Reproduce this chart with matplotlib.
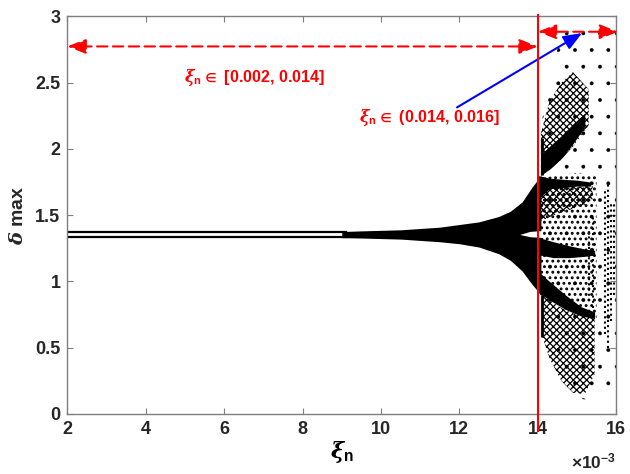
import numpy as np
import matplotlib
matplotlib.use("Agg")
import matplotlib.pyplot as plt

plt.rcParams['font.family'] = ['Liberation Sans', 'DejaVu Sans']
plt.rcParams['font.weight'] = 'bold'
plt.rcParams['axes.labelweight'] = 'bold'
plt.rcParams['mathtext.fontset'] = 'custom'
plt.rcParams['mathtext.rm'] = 'Liberation Sans:bold'
plt.rcParams['mathtext.bf'] = 'Liberation Sans:bold'
plt.rcParams['mathtext.it'] = 'DejaVu Serif:italic'
plt.rcParams['mathtext.fallback'] = 'stix'
plt.rcParams['hatch.linewidth'] = 1.0

# xi_n is in units of 1e-3, delta max on y
# two branches before they smear into one band
stem_x = [2.0, 9.1]
stem_hi = [1.372, 1.372]
stem_lo = [1.336, 1.336]

# widening band up to the red line
band_x = [9.0, 9.5, 10.5, 11.0, 11.5, 12.0, 12.5, 13.0, 13.3, 13.6, 13.85, 14.08]
band_hi = [1.377, 1.382, 1.390, 1.40, 1.41, 1.43, 1.45, 1.49, 1.53, 1.60, 1.71, 1.80]
band_lo = [1.331, 1.328, 1.320, 1.31, 1.30, 1.285, 1.26, 1.21, 1.16, 1.08, 0.98, 0.90]

# white notch where the band splits
notch_x = [13.55, 13.8, 14.12]
notch_hi = [1.356, 1.378, 1.385]
notch_lo = [1.354, 1.338, 1.332]

# solid branches after 0.014
hump_x = [14.0, 14.3, 14.7, 15.0, 15.35]
hump_hi = [1.80, 1.78, 1.77, 1.765, 1.75]
hump_lo = [1.62, 1.70, 1.71, 1.72, 1.72]

mid_x = [14.05, 14.4, 14.8, 15.2, 15.45]
mid_hi = [1.33, 1.30, 1.27, 1.245, 1.235]
mid_lo = [1.20, 1.18, 1.18, 1.19, 1.20]

low_x = [14.0, 14.3, 14.7, 15.1, 15.45]
low_hi = [1.08, 1.00, 0.90, 0.81, 0.77]
low_lo = [0.92, 0.86, 0.79, 0.74, 0.72]

core_x = [14.08, 14.3, 14.6, 14.9, 15.2]
core_hi = [1.96, 2.02, 2.10, 2.19, 2.27]
core_lo = [1.80, 1.85, 1.93, 2.04, 2.17]

# woven (dense) stipple
wing_x = [14.08, 14.3, 14.6, 14.9, 15.3]
wing_hi = [2.12, 2.36, 2.50, 2.58, 2.45]
wing_lo = [1.80, 1.84, 1.92, 2.02, 2.18]

under_x = [14.05, 14.4, 14.8, 15.2, 15.4]
under_hi = [1.72, 1.71, 1.71, 1.72, 1.72]
under_lo = [1.45, 1.50, 1.54, 1.58, 1.62]

fan_x = [14.1, 14.3, 14.6, 14.9, 15.2, 15.45]
fan_hi = [0.90, 0.86, 0.80, 0.76, 0.74, 0.72]
fan_lo = [0.60, 0.42, 0.25, 0.16, 0.15, 0.30]

# medium stipple
cloud_x = [14.05, 14.5, 15.0, 15.5]
cloud_hi = [1.78, 1.80, 1.82, 1.80]
cloud_lo = [0.90, 0.85, 0.78, 0.70]

# sparse chaotic points
sparse_x = [14.1, 14.35, 14.6, 15.0, 15.4, 15.7, 16.0]
sparse_hi = [2.20, 2.60, 2.85, 2.95, 2.95, 2.95, 2.90]
sparse_lo = [0.90, 0.60, 0.35, 0.12, 0.10, 0.20, 0.20]

# vertical point streaks
streak_x = [14.12, 14.12, 15.30, 15.40, 15.72, 15.80, 15.87, 15.94]
streak_lo = [1.80, 0.58, 0.85, 0.80, 0.60, 0.50, 0.70, 0.90]
streak_hi = [2.08, 0.90, 1.40, 1.50, 1.70, 1.75, 1.60, 1.60]

fig = plt.figure(figsize=(6.3, 4.74), dpi=100)
ax = fig.add_axes([0.107, 0.1266, 0.871, 0.8386])


def stipple(xs, lo, hi, pattern, hlw):
    with plt.rc_context({'hatch.linewidth': hlw}):
        pc = ax.fill_between(xs, lo, hi, facecolor='none', edgecolor='k',
                             hatch=pattern, linewidth=0)
    if hasattr(pc, 'set_hatch_linewidth'):
        pc.set_hatch_linewidth(hlw)
    return pc


stipple(sparse_x, sparse_lo, sparse_hi, '.', 0.3)
stipple(cloud_x, cloud_lo, cloud_hi, '...', 1.3)
for xs, lo, hi in [(wing_x, wing_lo, wing_hi), (under_x, under_lo, under_hi),
                   (fan_x, fan_lo, fan_hi)]:
    stipple(xs, lo, hi, 'xxxxx', 0.9)

ax.plot(stem_x, stem_hi, color='k', lw=1.6)
ax.plot(stem_x, stem_lo, color='k', lw=1.6)
for xs, lo, hi in [(band_x, band_lo, band_hi), (hump_x, hump_lo, hump_hi),
                   (mid_x, mid_lo, mid_hi), (low_x, low_lo, low_hi),
                   (core_x, core_lo, core_hi)]:
    ax.fill_between(xs, lo, hi, color='k', linewidth=0)
ax.fill_between(notch_x, notch_lo, notch_hi, color='white', linewidth=0)
ax.vlines(streak_x[:2], streak_lo[:2], streak_hi[:2], color='k', lw=2)
ax.vlines(streak_x[2:], streak_lo[2:], streak_hi[2:], color='k', lw=1.5,
          linestyles=[(0, (1, 1.5))])

# red separator and range arrows
ax.plot([14, 14], [-0.13, 3.015], color='red', lw=1.5, clip_on=False, zorder=5)
arrow_red = dict(arrowstyle='<|-|>,head_length=0.75,head_width=0.3', color='red',
                 lw=1.5, ls=(0, (5, 2.6)), shrinkA=0, shrinkB=0, mutation_scale=15)
ax.annotate('', xy=(2.0, 2.774), xytext=(14.0, 2.774), arrowprops=arrow_red,
            annotation_clip=False)
ax.annotate('', xy=(14.0, 2.885), xytext=(16.05, 2.885), arrowprops=arrow_red,
            annotation_clip=False)
ax.annotate('', xy=(15.13, 2.875), xytext=(11.94, 2.314),
            arrowprops=dict(arrowstyle='-|>,head_length=0.75,head_width=0.3',
                            color='blue', lw=1.5, shrinkA=0, shrinkB=0,
                            mutation_scale=15))

ax.text(6.77, 2.54, r'$\xi_{\mathbf{n}}\in$ [0.002, 0.014]', color='red',
        fontsize=11.5, ha='center', va='center')
ax.text(11.23, 2.24, r'$\xi_{\mathbf{n}}\in$ (0.014, 0.016]', color='red',
        fontsize=11.5, ha='center', va='center')

ax.set_xlim(2, 16)
ax.set_ylim(0, 3)
ax.set_xticks(np.arange(2, 17, 2))
ax.set_yticks(np.arange(0, 3.01, 0.5))
ax.set_xticklabels(['2', '4', '6', '8', '10', '12', '14', '16'])
ax.set_yticklabels(['0', '0.5', '1', '1.5', '2', '2.5', '3'])
ax.tick_params(direction='in', top=True, right=True, length=4, width=0.8,
               color='#7f7f7f', labelsize=13, labelcolor='#262626', pad=5)
for s in ax.spines.values():
    s.set_color('#7f7f7f')
    s.set_linewidth(1.0)

ax.set_xlabel(r'$\xi_{\mathbf{n}}$', fontsize=16, labelpad=1)
ax.set_ylabel(r'$\delta$ max', fontsize=14, labelpad=6, color='#262626')
ax.text(1.0, -0.136, r'$\times$10$^{\mathbf{-3}}$', transform=ax.transAxes,
        ha='right', va='baseline', fontsize=12.5, color='#262626')

fig.savefig('out.png', dpi=100)
